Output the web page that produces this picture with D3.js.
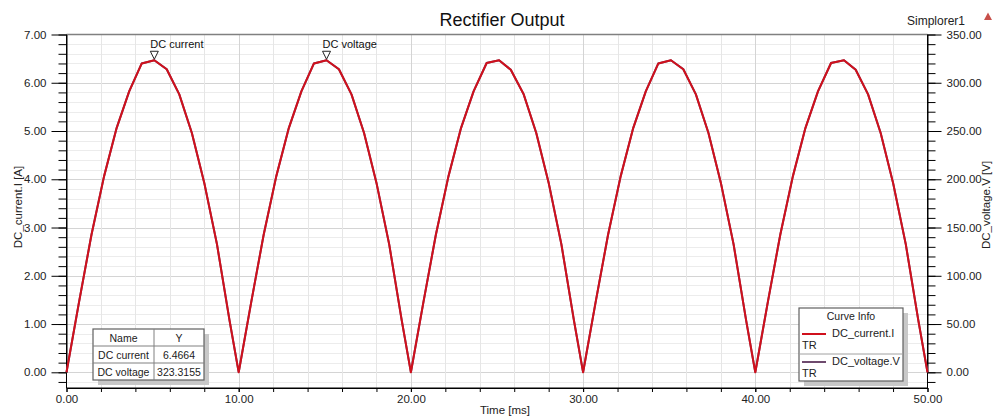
<!DOCTYPE html>
<html>
<head>
<meta charset="utf-8">
<script src="https://cdn.jsdelivr.net/npm/d3@7"></script>
<style>
  body { margin: 0; background: #fff; }
  svg { display: block; font-family: "Liberation Sans", Arial, sans-serif; }
</style>
</head>
<body>
<svg id="chart" width="993" height="417"></svg>
<script>
// sample times [ms]
var times = [
  0, 0.73, 1.45, 2.18, 2.91, 3.64, 4.37, 5.10, 5.82, 6.55, 7.28, 8.01, 8.74, 9.47,
  10, 10.73, 11.45, 12.18, 12.91, 13.64, 14.37, 15.10, 15.82, 16.55, 17.28, 18.01, 18.74, 19.47,
  20, 20.73, 21.45, 22.18, 22.91, 23.64, 24.40, 25.12, 25.80, 26.55, 27.28, 28.01, 28.74, 29.47,
  30, 30.73, 31.45, 32.18, 32.91, 33.64, 34.37, 35.10, 35.82, 36.55, 37.28, 38.01, 38.74, 39.47,
  40, 40.73, 41.45, 42.18, 42.91, 43.64, 44.40, 45.15, 45.83, 46.55, 47.28, 48.01, 48.74, 49.47,
  50
];
// DC_current.I [A]
var current = [
  0, 1.46, 2.85, 4.06, 5.06, 5.82, 6.40, 6.4664, 6.28, 5.76, 4.96, 3.91, 2.65, 1.07,
  0, 1.46, 2.85, 4.06, 5.06, 5.82, 6.40, 6.4663, 6.28, 5.76, 4.96, 3.91, 2.65, 1.07,
  0, 1.46, 2.85, 4.06, 5.06, 5.82, 6.41, 6.4660, 6.27, 5.76, 4.96, 3.91, 2.65, 1.07,
  0, 1.46, 2.85, 4.06, 5.06, 5.82, 6.40, 6.4662, 6.28, 5.76, 4.96, 3.91, 2.65, 1.07,
  0, 1.46, 2.85, 4.06, 5.06, 5.82, 6.41, 6.4658, 6.27, 5.76, 4.96, 3.91, 2.65, 1.07,
  0
];
// DC_voltage.V [V]
var voltage = [
  0, 73.0, 142.5, 203.0, 253.0, 291.0, 320.0, 323.32, 314.0, 288.0, 248.0, 195.5, 132.5, 53.5,
  0, 73.0, 142.5, 203.0, 253.0, 291.0, 320.0, 323.3155, 314.0, 288.0, 248.0, 195.5, 132.5, 53.5,
  0, 73.0, 142.5, 203.0, 253.0, 291.0, 320.5, 323.30, 313.5, 288.0, 248.0, 195.5, 132.5, 53.5,
  0, 73.0, 142.5, 203.0, 253.0, 291.0, 320.0, 323.31, 314.0, 288.0, 248.0, 195.5, 132.5, 53.5,
  0, 73.0, 142.5, 203.0, 253.0, 291.0, 320.5, 323.29, 313.5, 288.0, 248.0, 195.5, 132.5, 53.5,
  0
];
var xTicks = [0, 10, 20, 30, 40, 50];
var yLeftTicks = [0, 1, 2, 3, 4, 5, 6, 7];
var yRightTicks = [0, 50, 100, 150, 200, 250, 300, 350];
var markerNames = ["DC current", "DC voltage"];
var markerIdx = [7, 21];   // peak samples the markers sit on
var tableRows = [["Name", "Y"], ["DC current", "6.4664"], ["DC voltage", "323.3155"]];
var legendNames = ["DC_current.I", "DC_voltage.V"];

var pLeft = 66.5, pRight = 927.5, pTop = 34.5, pBottom = 388;
var svg = d3.select("#chart");

var x = d3.scaleLinear().domain([0, 50]).range([pLeft, pRight]);
var yL = d3.scaleLinear().domain([0, 7]).range([372.3, pTop]);
var yR = d3.scaleLinear().domain([0, 350]).range([372.3, pTop]);

svg.append("rect").attr("width", 993).attr("height", 417).attr("fill", "#fff");

// grid
var grid = svg.append("g");
grid.selectAll(".hg").data(d3.range(-0.2, 6.9, 0.2)).enter().append("line")
  .attr("x1", pLeft).attr("x2", pRight)
  .attr("y1", function(d) { return Math.round(yL(d)) + 0.5; })
  .attr("y2", function(d) { return Math.round(yL(d)) + 0.5; })
  .attr("stroke", function(d) { return Math.abs(d - Math.round(d)) < 0.01 ? "#d4d4d4" : "#ececec"; });
grid.selectAll(".vg").data(d3.range(2, 49, 2)).enter().append("line")
  .attr("y1", pTop).attr("y2", pBottom)
  .attr("x1", function(d) { return Math.round(x(d)) + 0.5; })
  .attr("x2", function(d) { return Math.round(x(d)) + 0.5; })
  .attr("stroke", function(d) { return d % 10 === 0 ? "#d4d4d4" : "#e6e6e6"; });

// frame
svg.append("line").attr("x1", pLeft).attr("x2", pRight).attr("y1", pTop).attr("y2", pTop)
  .attr("stroke", "#808080").attr("stroke-width", 1.5);

function styleAxis(g) {
  g.select(".domain").attr("stroke", "#000");
  g.selectAll("line").attr("stroke", "#000");
  g.selectAll("text").attr("fill", "#222").style("font-size", "11.5px")
    .style("font-family", "'Liberation Sans', Arial, sans-serif");
}

// left axis
svg.append("g").attr("transform", "translate(" + pLeft + ",0)")
  .call(d3.axisLeft(yL).tickValues(d3.range(-0.2, 7.01, 0.2)).tickSize(8).tickFormat("").tickSizeOuter(0))
  .call(styleAxis);
svg.append("g").attr("transform", "translate(" + pLeft + ",0)")
  .call(d3.axisLeft(yL).tickValues(yLeftTicks).tickSize(15).tickPadding(5).tickFormat(d3.format(".2f")).tickSizeOuter(0))
  .call(styleAxis).call(function(g) { g.select(".domain").remove(); });
svg.append("line").attr("x1", pLeft).attr("x2", pLeft).attr("y1", pTop).attr("y2", pBottom).attr("stroke", "#000");

// right axis
svg.append("g").attr("transform", "translate(" + pRight + ",0)")
  .call(d3.axisRight(yR).tickValues(d3.range(-10, 350.1, 10)).tickSize(8).tickFormat("").tickSizeOuter(0))
  .call(styleAxis);
svg.append("g").attr("transform", "translate(" + pRight + ",0)")
  .call(d3.axisRight(yR).tickValues(yRightTicks).tickSize(14).tickPadding(5).tickFormat(d3.format(".2f")).tickSizeOuter(0))
  .call(styleAxis).call(function(g) { g.select(".domain").remove(); });
svg.append("line").attr("x1", pRight).attr("x2", pRight).attr("y1", pTop).attr("y2", pBottom).attr("stroke", "#000");

// bottom axis
svg.append("g").attr("transform", "translate(0," + pBottom + ")")
  .call(d3.axisBottom(x).tickValues(d3.range(0, 50.1, 2)).tickSize(4).tickFormat("").tickSizeOuter(0))
  .call(styleAxis);
svg.append("g").attr("transform", "translate(0," + pBottom + ")")
  .call(d3.axisBottom(x).tickValues(xTicks).tickSize(4).tickPadding(3).tickFormat(d3.format(".2f")).tickSizeOuter(0))
  .call(styleAxis).call(function(g) { g.select(".domain").remove(); });
svg.append("line").attr("x1", pLeft).attr("x2", pRight).attr("y1", pBottom).attr("y2", pBottom).attr("stroke", "#000");

// curves
var pts = times.map(function(t, i) { return { t: t, i: current[i], v: voltage[i] }; });
svg.append("path").datum(pts)
  .attr("fill", "none").attr("stroke", "#6e4a6e").attr("stroke-width", 2)
  .attr("d", d3.line().x(function(d) { return x(d.t); }).y(function(d) { return yR(d.v); }));
svg.append("path").datum(pts)
  .attr("fill", "none").attr("stroke", "#d0101c").attr("stroke-width", 2).attr("stroke-linejoin", "round")
  .attr("d", d3.line().x(function(d) { return x(d.t); }).y(function(d) { return yL(d.i); }));

// markers
markerIdx.forEach(function(k, j) {
  var mx = x(times[k]), my = (j === 0 ? yL(current[k]) : yR(voltage[k]));
  svg.append("path")
    .attr("d", "M" + (mx - 4) + "," + (my - 9) + "L" + (mx + 4) + "," + (my - 9) + "L" + mx + "," + (my - 1) + "Z")
    .attr("fill", "#fff").attr("stroke", "#222").attr("stroke-width", 1);
  svg.append("text").attr("x", mx - 4).attr("y", my - 12)
    .style("font-size", "11px").attr("fill", "#111").text(markerNames[j]);
});

// titles
svg.append("text").attr("x", 502).attr("y", 26).attr("text-anchor", "middle")
  .style("font-size", "18px").attr("fill", "#111").text("Rectifier Output");
svg.append("text").attr("x", 907).attr("y", 25)
  .style("font-size", "12px").attr("fill", "#222").text("Simplorer1");
svg.append("path").attr("d", "M984,20 L988,12.5 L992,20 Z").attr("fill", "#c8504a");
svg.append("text").attr("x", 505).attr("y", 414).attr("text-anchor", "middle")
  .style("font-size", "11.5px").attr("fill", "#222").text("Time [ms]");
svg.append("text").attr("transform", "translate(22,207) rotate(-90)").attr("text-anchor", "middle")
  .style("font-size", "11.5px").attr("fill", "#222").text("DC_current.I [A]");
svg.append("text").attr("transform", "translate(990,205) rotate(-90)").attr("text-anchor", "middle")
  .style("font-size", "11.5px").attr("fill", "#222").text("DC_voltage.V [V]");

// value table
var tb = svg.append("g").attr("transform", "translate(93,329)");
var colW = [61, 50], rowH = 17;
tb.append("rect").attr("x", 5).attr("y", 5).attr("width", 111).attr("height", 51).attr("fill", "#c8c8c8");
tb.append("rect").attr("x", 0).attr("y", 0).attr("width", 111).attr("height", 51).attr("fill", "#fff")
  .attr("stroke", "#606060").attr("stroke-width", 1.2);
tableRows.forEach(function(r, i) {
  if (i > 0) tb.append("line").attr("x1", 0).attr("x2", 111).attr("y1", i * rowH).attr("y2", i * rowH).attr("stroke", "#808080");
  tb.append("text").attr("x", colW[0] / 2).attr("y", i * rowH + 12.5).attr("text-anchor", "middle")
    .style("font-size", "10.5px").attr("fill", "#222").text(r[0]);
  tb.append("text").attr("x", colW[0] + colW[1] / 2).attr("y", i * rowH + 12.5).attr("text-anchor", "middle")
    .style("font-size", "10.5px").attr("fill", "#222").text(r[1]);
});
tb.append("line").attr("x1", colW[0]).attr("x2", colW[0]).attr("y1", 0).attr("y2", 51).attr("stroke", "#808080");

// curve info legend
var lg = svg.append("g").attr("transform", "translate(799,308)");
lg.append("rect").attr("x", 5).attr("y", 5).attr("width", 104).attr("height", 73).attr("fill", "#c8c8c8");
lg.append("rect").attr("width", 104).attr("height", 73).attr("fill", "#fff")
  .attr("stroke", "#606060").attr("stroke-width", 1.2);
lg.append("text").attr("x", 52).attr("y", 12).attr("text-anchor", "middle")
  .style("font-size", "10.5px").attr("fill", "#222").text("Curve Info");
lg.append("line").attr("x1", 0).attr("x2", 104).attr("y1", 46).attr("y2", 46).attr("stroke", "#a0a0a0");
var lgColors = ["#d0101c", "#6e4a6e"];
legendNames.forEach(function(n, i) {
  var yy = 26 + i * 28;
  lg.append("line").attr("x1", 3).attr("x2", 27).attr("y1", yy).attr("y2", yy)
    .attr("stroke", lgColors[i]).attr("stroke-width", 2);
  lg.append("text").attr("x", 33).attr("y", yy + 3).style("font-size", "11px").attr("fill", "#222").text(n);
  lg.append("text").attr("x", 3).attr("y", yy + 15).style("font-size", "11px").attr("fill", "#222").text("TR");
});
</script>
</body>
</html>
